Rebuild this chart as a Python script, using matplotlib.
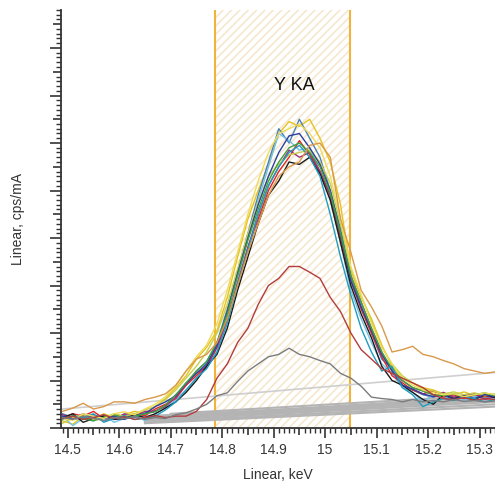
import matplotlib
matplotlib.use("Agg")
import matplotlib.pyplot as plt
from matplotlib.ticker import MultipleLocator, FuncFormatter

plt.rcParams['font.family'] = ['Liberation Sans', 'DejaVu Sans']
plt.rcParams['hatch.linewidth'] = 1.2

# energy channels, keV
energy = [14.49, 14.51, 14.53, 14.55, 14.57, 14.59, 14.61, 14.63, 14.65, 14.67,
          14.69, 14.71, 14.73, 14.75, 14.77, 14.79, 14.81, 14.83, 14.85, 14.87,
          14.89, 14.91, 14.93, 14.95, 14.97, 14.99, 15.01, 15.03, 15.05, 15.07,
          15.09, 15.11, 15.13, 15.15, 15.17, 15.19, 15.21, 15.23, 15.25, 15.27,
          15.29, 15.31, 15.33]

# measured spectra (cps/mA) around the Y KA line
gold = [0.15, 0.08, 0.25, 0.18, 0.30, 0.22, 0.28, 0.35, 0.30, 0.45, 0.62, 0.85, 1.10, 1.45, 1.70,
        2.05, 2.75, 3.60, 4.40, 5.00, 5.55, 6.20, 6.45, 6.35, 6.50, 6.10, 5.60, 4.70, 3.30, 2.75,
        2.30, 1.75, 1.30, 1.05, 0.95, 0.85, 0.80, 0.72, 0.70, 0.76, 0.68, 0.72, 0.70]
steel = [0.30, 0.22, 0.18, 0.25, 0.15, 0.20, 0.28, 0.22, 0.32, 0.35, 0.48, 0.70, 0.90, 1.20, 1.40,
         1.80, 2.50, 3.30, 4.10, 4.90, 5.60, 6.30, 6.00, 6.50, 6.10, 5.70, 5.00, 4.20, 3.20, 2.55,
         2.00, 1.45, 1.25, 0.90, 0.80, 0.70, 0.65, 0.72, 0.60, 0.65, 0.70, 0.62, 0.68]
sky = [0.25, 0.05, 0.20, 0.15, 0.28, 0.12, 0.20, 0.30, 0.15, 0.30, 0.42, 0.60, 0.80, 1.05, 1.30,
       1.60, 2.30, 3.10, 4.00, 4.80, 5.50, 6.20, 6.05, 5.85, 5.90, 5.40, 4.80, 3.90, 2.90, 2.30,
       1.80, 1.35, 1.15, 0.85, 0.75, 0.55, 0.70, 0.62, 0.70, 0.58, 0.66, 0.70, 0.60]
red = [0.20, 0.30, 0.25, 0.35, 0.20, 0.28, 0.22, 0.30, 0.26, 0.40, 0.50, 0.62, 0.90, 1.10, 1.30,
       1.70, 2.30, 3.00, 3.80, 4.40, 5.00, 5.40, 5.70, 6.05, 5.75, 5.40, 4.90, 4.00, 3.10, 2.50,
       2.00, 1.50, 1.10, 0.95, 0.80, 0.72, 0.78, 0.65, 0.70, 0.62, 0.70, 0.66, 0.70]
magenta = [0.28, 0.20, 0.30, 0.22, 0.25, 0.18, 0.30, 0.25, 0.35, 0.36, 0.45, 0.65, 0.92, 1.15, 1.30,
           1.70, 2.30, 3.05, 3.80, 4.50, 5.10, 5.50, 5.85, 5.70, 5.80, 5.40, 4.90, 4.05, 3.20, 2.65,
           2.10, 1.60, 1.20, 1.00, 0.85, 0.78, 0.70, 0.75, 0.65, 0.70, 0.72, 0.60, 0.66]
black = [0.22, 0.30, 0.12, 0.20, 0.25, 0.18, 0.20, 0.28, 0.22, 0.30, 0.42, 0.55, 0.75, 1.00, 1.30,
         1.55, 2.10, 2.90, 3.60, 4.30, 4.90, 5.20, 5.60, 5.55, 5.70, 5.35, 4.80, 3.90, 3.00, 2.40,
         1.90, 1.30, 1.00, 0.90, 0.75, 0.60, 0.50, 0.70, 0.62, 0.68, 0.60, 0.70, 0.64]
khaki = [0.10, 0.22, 0.28, 0.18, 0.22, 0.30, 0.25, 0.30, 0.38, 0.45, 0.60, 0.80, 1.05, 1.30, 1.60,
         2.00, 2.60, 3.35, 4.10, 4.75, 5.30, 5.55, 5.75, 5.80, 5.85, 5.60, 5.15, 4.30, 3.35, 2.80,
         2.25, 1.70, 1.35, 1.10, 0.95, 0.82, 0.78, 0.72, 0.76, 0.70, 0.74, 0.68, 0.72]
navy = [0.25, 0.18, 0.22, 0.28, 0.20, 0.25, 0.18, 0.26, 0.30, 0.45, 0.55, 0.68, 0.95, 1.15, 1.35,
        1.75, 2.45, 3.25, 4.00, 4.70, 5.30, 5.80, 6.15, 6.20, 5.90, 5.55, 5.00, 4.10, 3.10, 2.55,
        2.05, 1.55, 1.20, 0.90, 0.82, 0.72, 0.66, 0.70, 0.60, 0.68, 0.62, 0.70, 0.66]
green = [0.20, 0.26, 0.20, 0.15, 0.22, 0.28, 0.20, 0.25, 0.30, 0.34, 0.48, 0.70, 0.95, 1.20, 1.40,
         1.80, 2.40, 3.20, 3.95, 4.60, 5.20, 5.60, 5.90, 6.00, 5.80, 5.50, 4.95, 4.10, 3.20, 2.65,
         2.10, 1.60, 1.25, 1.00, 0.85, 0.78, 0.70, 0.68, 0.72, 0.65, 0.70, 0.74, 0.68]
teal = [0.18, 0.25, 0.22, 0.30, 0.12, 0.20, 0.26, 0.18, 0.20, 0.25, 0.38, 0.55, 0.80, 1.05, 1.25,
        1.60, 2.20, 3.00, 3.75, 4.50, 5.10, 5.50, 5.80, 5.95, 5.70, 5.30, 4.50, 3.60, 2.80, 2.10,
        1.60, 1.20, 1.30, 0.85, 0.70, 0.45, 0.55, 0.62, 0.58, 0.66, 0.62, 0.55, 0.60]
lemon = [0.20, 0.16, 0.30, 0.25, 0.20, 0.30, 0.34, 0.28, 0.40, 0.50, 0.66, 0.90, 1.20, 1.50, 1.75,
         2.20, 2.90, 3.70, 4.50, 5.20, 5.80, 6.20, 6.30, 6.40, 6.20, 5.90, 5.30, 4.40, 3.40, 2.80,
         2.20, 1.70, 1.35, 1.05, 0.90, 0.80, 0.74, 0.70, 0.72, 0.66, 0.70, 0.74, 0.70]
tan = [0.35, 0.42, 0.52, 0.40, 0.45, 0.55, 0.55, 0.52, 0.60, 0.65, 0.72, 0.90, 1.20, 1.45, 1.55,
       1.80, 2.30, 3.00, 3.70, 4.30, 4.90, 5.30, 5.50, 5.60, 5.95, 6.00, 5.70, 4.40, 3.70, 2.90,
       2.55, 2.15, 1.60, 1.65, 1.72, 1.55, 1.50, 1.42, 1.35, 1.25, 1.20, 1.15, 1.18]
brick = [0.20, 0.25, 0.18, 0.22, 0.28, 0.20, 0.24, 0.18, 0.22, 0.26, 0.22, 0.25, 0.25, 0.35, 0.60,
         1.05, 1.35, 1.80, 2.10, 2.60, 3.00, 3.15, 3.40, 3.40, 3.28, 3.15, 2.75, 2.45, 2.00, 1.65,
         1.45, 1.25, 1.15, 1.05, 0.95, 0.85, 0.70, 0.62, 0.60, 0.64, 0.58, 0.62, 0.60]
grey = [0.22, 0.18, 0.25, 0.20, 0.16, 0.22, 0.20, 0.24, 0.18, 0.22, 0.20, 0.28, 0.32, 0.40, 0.50,
        0.68, 0.74, 0.98, 1.20, 1.35, 1.50, 1.55, 1.68, 1.55, 1.50, 1.42, 1.35, 1.15, 1.05, 0.88,
        0.65, 0.62, 0.60, 0.55, 0.60, 0.55, 0.58, 0.55, 0.60, 0.56, 0.58, 0.55, 0.57]

spectra = [gold, steel, sky, red, magenta, black, khaki, navy, green, teal, lemon, tan, brick, grey]
colors = ['#e8c21c', '#4d7fb5', '#72c3e6', '#e02828', '#a2307f', '#1a1a1a', '#c6cf4c',
          '#2b3f9e', '#3ea33e', '#1f9cc0', '#eedc5a', '#d9994a', '#b33c3c', '#7c7c7c']

# fitted backgrounds: start energy, end energy, start value, end value
bg_x0 = [14.49, 14.65, 14.65, 14.65, 14.65, 14.65, 14.65, 14.65, 14.70]
bg_x1 = [15.33, 15.33, 15.33, 15.33, 15.33, 15.33, 15.33, 15.33, 15.33]
bg_y0 = [0.40, 0.10, 0.12, 0.15, 0.18, 0.20, 0.22, 0.25, 0.30]
bg_y1 = [1.17, 0.45, 0.50, 0.55, 0.58, 0.62, 0.66, 0.60, 0.70]

roi_lo, roi_hi = 14.787, 15.048
line_name = 'Y KA'
line_pos = (14.94, 7.2)

fig = plt.figure(figsize=(4.95, 4.84), dpi=100)
ax = fig.add_axes([61 / 495, 56 / 484, 434 / 495, 418 / 484])

# region of interest
ax.axvspan(roi_lo, roi_hi, facecolor='white', edgecolor='#f6e7cf', hatch='////', lw=0, zorder=0)
ax.axvline(roi_lo, color='#f0b43c', lw=1.5, zorder=1)
ax.axvline(roi_hi, color='#f0b43c', lw=1.5, zorder=1)

for k in range(len(bg_x0)):
    c = '#cfcfcf' if k == 0 else '#b4b4b4'
    w = 1.2 if k == 0 else 1.5
    ax.plot([bg_x0[k], bg_x1[k]], [bg_y0[k], bg_y1[k]], color=c, lw=w, zorder=2)

for s, c in zip(spectra, colors):
    ax.plot(energy, s, color=c, lw=1.0, zorder=3)

ax.text(line_pos[0], line_pos[1], line_name, ha='center', va='center', fontsize=13, color='#111111')

ax.set_xlim(14.487, 15.33)
ax.set_ylim(0, 8.8)

ax.spines['top'].set_visible(False)
ax.spines['right'].set_visible(False)
for sp in ('left', 'bottom'):
    ax.spines[sp].set_color('#333333')
    ax.spines[sp].set_linewidth(1.3)

ax.xaxis.set_major_locator(MultipleLocator(0.05))
ax.xaxis.set_minor_locator(MultipleLocator(0.01))
ax.xaxis.set_major_formatter(FuncFormatter(
    lambda v, p: ('%g' % round(v, 1)) if abs(v * 10 - round(v * 10)) < 1e-6 else ''))
ax.yaxis.set_major_locator(MultipleLocator(0.5))
ax.yaxis.set_minor_locator(MultipleLocator(0.1))
ax.yaxis.set_major_formatter(FuncFormatter(lambda v, p: ''))

ax.tick_params(axis='both', which='major', direction='out', length=7, width=1.2,
               color='#333333', labelsize=10, labelcolor='#383838', pad=4)
ax.tick_params(axis='both', which='minor', direction='out', length=3.5, width=1.0, color='#333333')

# half-step majors are drawn shorter
for t, v in zip(ax.xaxis.get_major_ticks(), ax.xaxis.get_majorticklocs()):
    if abs(v * 10 - round(v * 10)) > 1e-6:
        t.tick1line.set_markersize(5)
for t, v in zip(ax.yaxis.get_major_ticks(), ax.yaxis.get_majorticklocs()):
    if abs(v - round(v)) > 1e-6:
        t.tick1line.set_markersize(5.5)
    else:
        t.tick1line.set_markersize(8)

ax.set_xlabel('Linear, keV', fontsize=10, color='#333333')
ax.set_ylabel('Linear, cps/mA', fontsize=10, color='#333333')
ax.yaxis.set_label_coords(-0.083, 0.5)
ax.xaxis.set_label_coords(0.5, -0.095)

fig.savefig('out.png', dpi=100)
